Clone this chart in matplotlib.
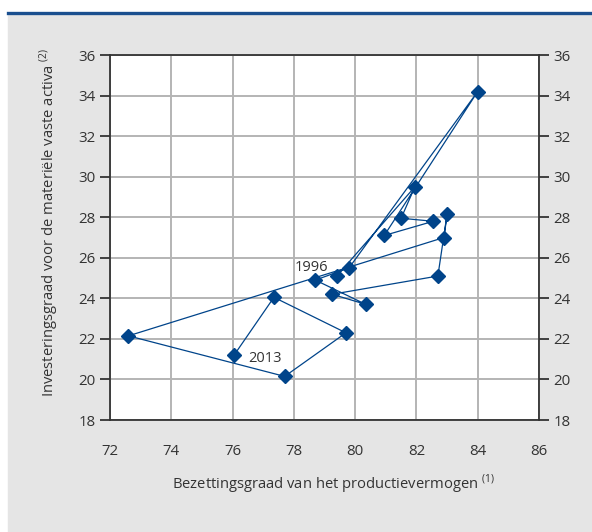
import matplotlib
matplotlib.use("Agg")
import matplotlib.pyplot as plt
from matplotlib.patches import Rectangle
from matplotlib.lines import Line2D

plt.rcParams['font.family'] = ['Open Sans', 'DejaVu Sans']

# jaren 1996 - 2013
years = list(range(1996, 2014))
capacity = [79.4, 81.95, 81.5, 82.55, 80.95, 84.0, 79.8, 78.7, 80.35, 79.25,
            82.7, 83.0, 82.9, 72.6, 77.7, 79.7, 77.35, 76.05]
investment = [25.1, 29.5, 27.95, 27.8, 27.1, 34.2, 25.5, 24.9, 23.7, 24.2,
              25.1, 28.15, 27.0, 22.15, 20.15, 22.3, 24.05, 21.2]

xticks = [72, 74, 76, 78, 80, 82, 84, 86]
yticks = [18, 20, 22, 24, 26, 28, 30, 32, 34, 36]

blue = '#00448a'
txt = '#333333'

fig = plt.figure(figsize=(5.92, 5.32), dpi=100)
fig.patches.append(Rectangle((8/592, 0), 1 - 8/592, 1 - 14/532,
                             transform=fig.transFigure, color='#e5e5e5', zorder=-10))
fig.lines.append(Line2D([8/592, 1], [1 - 13/532, 1 - 13/532],
                        transform=fig.transFigure, color='#1a4f8f', lw=2.4))

ax = fig.add_axes([110/592, 1 - 420/532, 429/592, 365/532])
ax.set_facecolor('white')

ax.plot(capacity, investment, color=blue, lw=0.9, marker='D', ms=7.5,
        markerfacecolor=blue, markeredgecolor=blue, zorder=3)

ax.annotate(str(years[0]), (capacity[0], investment[0]), xytext=(-6.5, 3.5),
            textcoords='offset points', ha='right', va='baseline',
            fontsize=10.5, color=txt)
ax.annotate(str(years[-1]), (capacity[-1], investment[-1]), xytext=(10, -5),
            textcoords='offset points', ha='left', va='baseline',
            fontsize=10.5, color=txt)

ax.set_xlim(72, 86)
ax.set_ylim(18, 36)
ax.set_xticks(xticks)
ax.set_yticks(yticks)
ax.grid(True, color='#b4b4b4', lw=1.4)
ax.set_axisbelow(True)

for s in ax.spines.values():
    s.set_color('#333333')
    s.set_linewidth(1.3)

ax.tick_params(axis='y', direction='out', length=7.5, width=1.3, color='#333333',
               labelsize=10.8, labelcolor=txt, left=True, right=True,
               labelleft=True, labelright=True, pad=3)
ax.tick_params(axis='x', length=0, labelsize=10.8, labelcolor=txt, pad=17)

ax.set_xlabel(r'Bezettingsgraad van het productievermogen $^{\mathregular{(1)}}$',
              fontsize=10.6, color=txt)
ax.set_ylabel(r'Investeringsgraad voor de materiële vaste activa $^{\mathregular{(2)}}$',
              fontsize=10.6, color=txt)
ax.xaxis.set_label_coords(0.52, -0.145)
ax.yaxis.set_label_coords(-0.114, 0.542)

fig.savefig('out.png', dpi=100)
